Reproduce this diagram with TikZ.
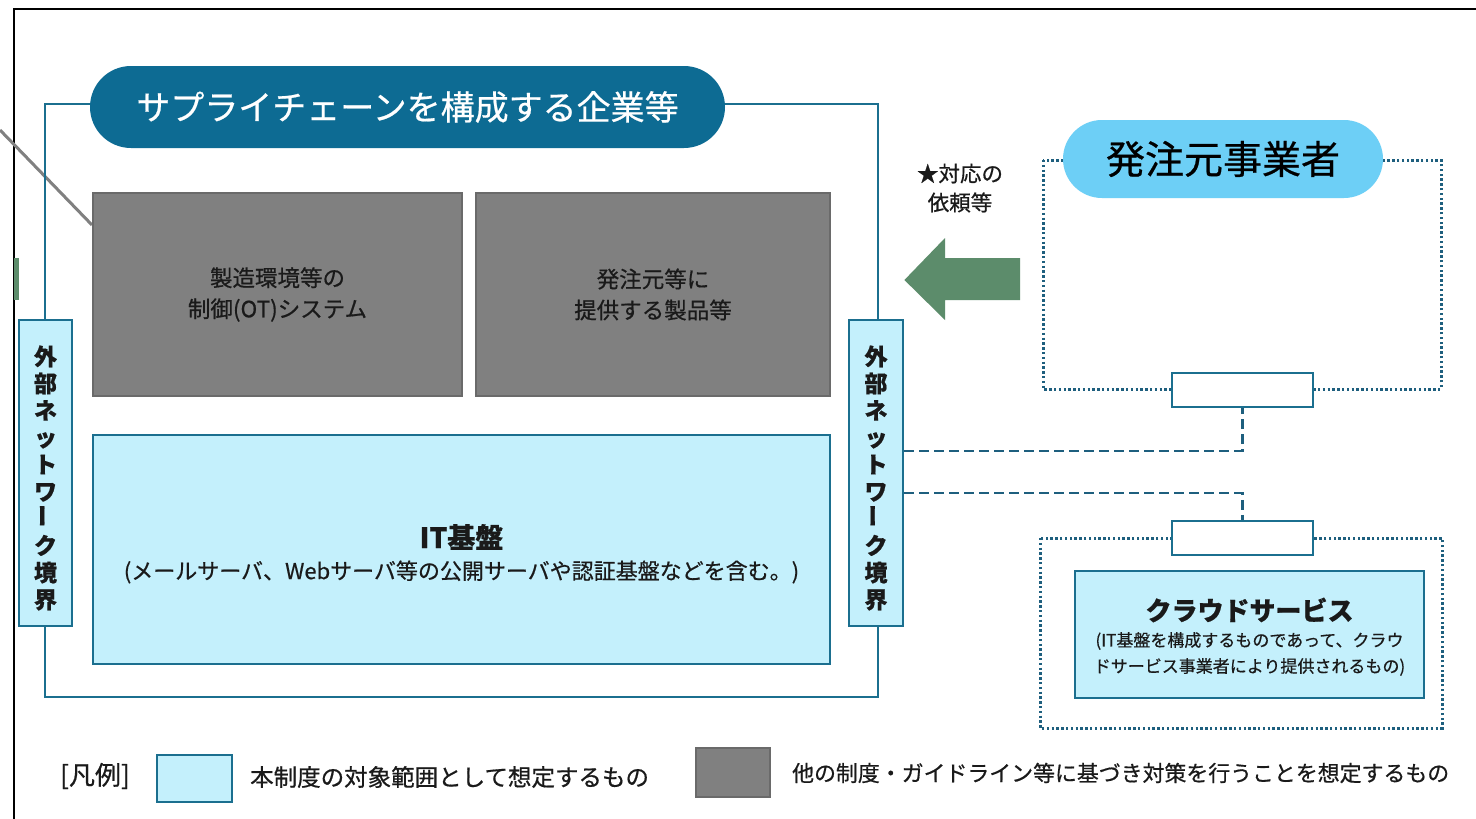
\documentclass[tikz,border=0pt]{standalone}
\usepackage{fontspec}
\setmainfont{Noto Sans CJK JP}[FakeBold=0.6]
\usepackage{graphicx}
\definecolor{tealfr}{HTML}{1B6F8F}
\definecolor{pillc}{HTML}{0D6B93}
\definecolor{lcyan}{HTML}{C4F0FC}
\definecolor{grayf}{HTML}{808080}
\definecolor{grayb}{HTML}{6A6A6A}
\definecolor{clientc}{HTML}{6DCFF6}
\definecolor{greena}{HTML}{5C8C6B}
\definecolor{dashc}{HTML}{1E5F7E}
\definecolor{txtd}{HTML}{1A1A1A}
\newcommand{\fs}[2]{\fontsize{#1}{#2}\selectfont}
\tikzset{
  frameline/.style={draw=tealfr, line width=2.8pt},
  graybox/.style={draw=grayb, fill=grayf, line width=2pt, text=txtd, align=center},
  cyanbox/.style={draw=tealfr, fill=lcyan, line width=2.8pt, align=center},
  whitebox/.style={draw=tealfr, fill=white, line width=2.8pt},
  dotline/.style={draw=dashc, line width=3pt, dash pattern=on 2.4pt off 2.4pt},
  dashline/.style={draw=dashc, line width=2.8pt, dash pattern=on 10pt off 5pt},
  vtext/.style={font=\bfseries\fs{23}{27}, align=center, text=txtd},
  plain/.style={text=txtd, inner sep=0pt}
}
\begin{document}
\begin{tikzpicture}[x=1pt,y=-1pt]
\useasboundingbox (0,0) rectangle (1476,819);
\fill[white] (0,0) rectangle (1476,819);
% crop frame remnants
\draw[black, line width=2pt] (14,819) -- (14,9) -- (1476,9);
\draw[grayf, line width=3pt] (0,130) -- (92,225);
\fill[greena] (14,258) rectangle (19,300);

% supply chain frame
\draw[frameline] (45,104) rectangle (878,697);
\node[fill=pillc, rounded corners=41pt, minimum width=635pt, minimum height=82pt, text=white, font=\fs{34}{40}, inner sep=0pt] (title) at (407.5,107) {サプライチェーンを構成する企業等};

% gray boxes
\node[graybox, minimum width=369pt, minimum height=203pt, font=\fs{22.5}{31}] (ot) at (277.5,294.5) {製造環境等の\\制御(OT)システム};
\node[graybox, minimum width=354pt, minimum height=203pt, font=\fs{22.5}{31}] (prod) at (653,294.5) {発注元等に\\提供する製品等};

% IT box
\node[cyanbox, minimum width=737pt, minimum height=229pt] (it) at (461.5,549.5) {};
\node[plain, font=\bfseries\fs{28}{34}] (ittitle) at (461.5,537) {IT基盤};
\node[plain, font=\fs{22}{28}] (itsub) at (461.5,572) {(メールサーバ、Webサーバ等の公開サーバや認証基盤などを含む。)};

% boundary boxes
\node[cyanbox, minimum width=53pt, minimum height=306pt, inner sep=0pt] (lb) at (45.5,473) {};
\node[vtext] (lbt) at (45.5,478) {外\\部\\ネ\\ッ\\ト\\ワ\\\rotatebox{90}{ー}\\ク\\境\\界};
\node[cyanbox, minimum width=54pt, minimum height=306pt, inner sep=0pt] (rb) at (876,473) {};
\node[vtext] (rbt) at (876,478) {外\\部\\ネ\\ッ\\ト\\ワ\\\rotatebox{90}{ー}\\ク\\境\\界};

% arrow
\fill[greena] (rb.east |- 0,280) -- (945,238) -- (945,258) -- (1020,258) -- (1020,300) -- (945,300) -- (945,320) -- cycle;
\node[align=center, text=txtd, font=\fs{21.5}{29}] (req) at (960,188) {★対応の\\依頼等};

% client
\draw[dotline] (1043,160) rectangle (1441,389);
\node[fill=clientc, rounded corners=39pt, minimum width=320pt, minimum height=78pt, text=black, font=\fs{39}{44}, inner sep=0pt] (client) at (1223,159) {発注元事業者};
\node[whitebox, minimum width=141pt, minimum height=34pt, inner sep=0pt] (sb1) at (1242.5,390) {};

% cloud
\draw[dotline] (1040,538) rectangle (1442,728);
\node[whitebox, minimum width=141pt, minimum height=34pt, inner sep=0pt] (sb2) at (1242.5,538) {};
\node[cyanbox, minimum width=349pt, minimum height=127pt] (cloud) at (1249.5,634.5) {};
\node[plain, font=\bfseries\fs{26}{32}] (cloudtitle) at (1249.5,610) {クラウドサービス};
\node[plain, font=\fs{17}{26}] (cloudsub1) at (1249.5,641) {(IT基盤を構成するものであって、クラウ};
\node[plain, font=\fs{17}{26}] (cloudsub2) at (1249.5,667) {ドサービス事業者により提供されるもの)};

% connectors
\draw[dashline] ([yshift=22pt]rb.east) -| (sb1.south);
\draw[dashline] ([yshift=-20pt]rb.east) -| (sb2.north);

% legend
\node[text=txtd, font=\fs{26}{30}] (leg) at (95,776) {[凡例]};
\node[draw=tealfr, fill=lcyan, line width=2.8pt, minimum width=75pt, minimum height=47pt] (legc) at (194.5,778.5) {};
\node[anchor=west, inner sep=0pt, text=txtd, font=\fs{23.5}{28}] (legct) at (250,777) {本制度の対象範囲として想定するもの};
\node[draw=grayb, fill=grayf, line width=2pt, minimum width=74pt, minimum height=49pt] (legg) at (733,772.5) {};
\node[anchor=west, inner sep=0pt, text=txtd, font=\fs{21.9}{28}] (leggt) at (792,773) {他の制度・ガイドライン等に基づき対策を行うことを想定するもの};
\end{tikzpicture}
\end{document}
